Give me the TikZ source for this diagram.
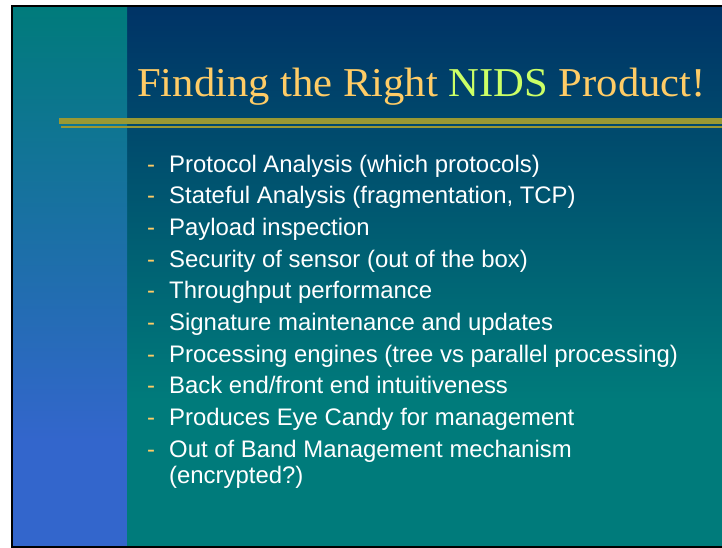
\documentclass[tikz,border=0pt]{standalone}
\usepackage{fontspec}
\newfontfamily\arialf{Liberation Sans}
\newfontfamily\titlef{Liberation Serif}
\definecolor{navy}{HTML}{003366}
\definecolor{tealc}{HTML}{007B7B}
\definecolor{bluec}{HTML}{3366CC}
\definecolor{gold}{HTML}{FFCC66}
\definecolor{limec}{HTML}{CCFF66}
\definecolor{olive}{HTML}{999933}
\tikzset{
  bullettext/.style={anchor=base west, inner sep=0pt, text=white, font=\arialf\fontsize{23.9}{26}\selectfont},
  bulletdash/.style={anchor=base west, inner sep=0pt, text=gold, font=\arialf\fontsize{23.9}{26}\selectfont},
  titletext/.style={anchor=base west, inner sep=0pt, text=gold, font=\titlef\fontsize{41}{44}\selectfont}
}
\begin{document}
\begin{tikzpicture}[x=1pt,y=-1pt]
\useasboundingbox (0,0) rectangle (722,548);
\fill[white] (0,0) rectangle (722,548);
% main background
\shade[top color=navy, bottom color=tealc] (127,6) rectangle (722,400);
\fill[tealc] (127,399.5) rectangle (722,546.5);
% left panel
\shade[top color=tealc, bottom color=bluec] (12,6) rectangle (127,440);
\fill[bluec] (12,439.5) rectangle (127,546.5);
% frame
\draw[black, line width=2pt] (722,6) -- (12,6) -- (12,546.5) -- (722,546.5);
% gold rules
\fill[olive] (59,118) rectangle (722,123.7);
\fill[olive] (61,125.7) rectangle (722,128);
% title
\node[titletext] (title) at (137,97) {\scalebox{1.04}[1]{Finding the Right \textcolor{limec}{NIDS} Product!}};
% bullets
\foreach \i/\y/\t in {1/172/{Protocol Analysis (which protocols)},
  2/203.7/{Stateful Analysis (fragmentation, TCP)},
  3/235.4/{Payload inspection},
  4/267/{Security of sensor (out of the box)},
  5/298.8/{Throughput performance},
  6/330.5/{Signature maintenance and updates},
  7/362/{Processing engines (tree vs parallel processing)},
  8/393.8/{Back end/front end intuitiveness},
  9/425.5/{Produces Eye Candy for management},
  10/457/{Out of Band Management mechanism}} {
  \node[bulletdash] (d\i) at (147,\y) {-};
  \node[bullettext] (b\i) at (169,\y) {\t};
}
\node[bullettext] (b10b) at (169,483) {(encrypted?)};
\end{tikzpicture}
\end{document}
